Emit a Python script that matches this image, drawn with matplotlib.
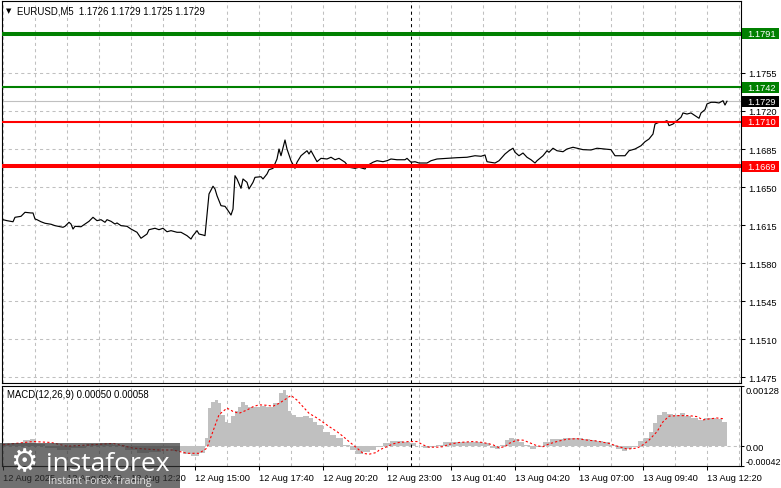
import numpy as np
import matplotlib.pyplot as plt
import matplotlib.transforms as mtransforms
from matplotlib.patches import Rectangle

plt.rcParams['font.family'] = ['Liberation Sans', 'DejaVu Sans']
plt.rcParams['font.size'] = 6.7

# EURUSD M5 closes (bar 0 = 12 Aug 07:00)
price_bar = [0, 2, 5, 6, 9, 11, 14, 15, 16, 17, 19, 21, 24, 26, 30, 31, 33, 34, 35, 36,
             39, 41, 43, 45, 47, 49, 51, 52, 54, 56, 57, 59, 62, 64, 67, 69, 72, 73, 76, 78,
             80, 82, 84, 87, 89, 92, 94, 95, 97, 98, 100, 101, 103, 105, 106, 107, 109, 111, 112, 114,
             115, 116, 117, 119, 120, 122, 123, 125, 126, 129, 130, 132, 133, 135, 137, 138, 139, 141, 142, 144,
             146, 147, 149, 152, 153, 154, 157, 159, 162, 164, 166, 168, 171, 173, 176, 178, 181, 182, 185, 187,
             190, 192, 194, 197, 201, 202, 204, 206, 208, 212, 214, 217, 222, 227, 232, 236, 239, 241, 242, 246,
             248, 251, 253, 255, 256, 258, 260, 262, 264, 266, 267, 270, 272, 273, 275, 277, 280, 282, 285, 287,
             290, 294, 297, 301, 304, 306, 311, 313, 316, 319, 321, 323, 325, 326, 328, 330, 332, 333, 335, 337,
             339, 340, 342, 344, 346, 348, 349, 351, 352, 354, 356, 358, 360, 361, 362]
price_close = [1.16199, 1.16190, 1.16180, 1.16221, 1.16230, 1.16267, 1.16261, 1.16261, 1.16205, 1.16199,
               1.16180, 1.16166, 1.16157, 1.16144, 1.16129, 1.16138, 1.16175, 1.16159, 1.16113, 1.16138,
               1.16134, 1.16159, 1.16184, 1.16221, 1.16190, 1.16199, 1.16175, 1.16199, 1.16184, 1.16159,
               1.16169, 1.16144, 1.16138, 1.16113, 1.16083, 1.16028, 1.16067, 1.16107, 1.16120, 1.16107,
               1.16120, 1.16088, 1.16098, 1.16083, 1.16083, 1.16052, 1.16021, 1.16052, 1.16098, 1.16067,
               1.16058, 1.16052, 1.16436, 1.16507, 1.16482, 1.16420, 1.16328, 1.16322, 1.16297, 1.16242,
               1.16297, 1.16604, 1.16574, 1.16488, 1.16574, 1.16543, 1.16482, 1.16543, 1.16589, 1.16595,
               1.16574, 1.16620, 1.16659, 1.16672, 1.16758, 1.16850, 1.16788, 1.16933, 1.16850, 1.16742,
               1.16672, 1.16728, 1.16788, 1.16834, 1.16804, 1.16834, 1.16733, 1.16764, 1.16758, 1.16774,
               1.16751, 1.16764, 1.16728, 1.16682, 1.16672, 1.16682, 1.16666, 1.16696, 1.16728, 1.16742,
               1.16733, 1.16742, 1.16758, 1.16751, 1.16751, 1.16764, 1.16728, 1.16733, 1.16721, 1.16721,
               1.16742, 1.16758, 1.16764, 1.16770, 1.16774, 1.16788, 1.16783, 1.16795, 1.16733, 1.16721,
               1.16742, 1.16804, 1.16834, 1.16857, 1.16820, 1.16788, 1.16813, 1.16774, 1.16751, 1.16721,
               1.16742, 1.16788, 1.16834, 1.16820, 1.16857, 1.16834, 1.16825, 1.16850, 1.16866, 1.16857,
               1.16844, 1.16841, 1.16857, 1.16850, 1.16844, 1.16788, 1.16788, 1.16834, 1.16850, 1.16880,
               1.16917, 1.16942, 1.16988, 1.17080, 1.17096, 1.17096, 1.17111, 1.17065, 1.17080, 1.17111,
               1.17142, 1.17182, 1.17172, 1.17182, 1.17157, 1.17133, 1.17182, 1.17212, 1.17265, 1.17280,
               1.17280, 1.17274, 1.17295, 1.17255, 1.17290]

# MACD histogram and signal line
hist_bar = [0, 8, 12, 15, 18, 24, 30, 38, 45, 52, 58, 64, 70, 76, 82, 88, 92, 96, 100, 102,
            103, 105, 107, 108, 110, 112, 113, 115, 117, 118, 120, 122, 123, 127, 130, 133, 137, 139, 141, 142,
            143, 145, 148, 152, 154, 156, 158, 162, 165, 168, 172, 175, 178, 182, 185, 188, 192, 195, 198, 202,
            205, 208, 212, 215, 218, 222, 225, 232, 238, 242, 245, 247, 250, 252, 254, 257, 259, 262, 265, 268,
            272, 275, 278, 282, 285, 288, 292, 295, 298, 302, 305, 308, 311, 313, 316, 319, 322, 324, 326, 328,
            331, 333, 337, 340, 342, 346, 349, 352, 355, 358, 361, 362]
hist_val = [0.00004, 0.00006, 0.00013, 0.00015, 0.00004, -0.00004, -0.00008, -0.00004, 0.00004, 0.00006,
            0.00002, -0.00008, -0.00015, -0.00013, -0.00004, -0.00011, -0.00017, -0.00021, -0.00015, 0.00017,
            0.00081, 0.00095, 0.00098, 0.00091, 0.00067, 0.00052, 0.00049, 0.00064, 0.00074, 0.00084,
            0.00094, 0.00088, 0.00084, 0.00084, 0.00086, 0.00084, 0.00091, 0.00113, 0.00120, 0.00109,
            0.00074, 0.00067, 0.00063, 0.00065, 0.00061, 0.00052, 0.00045, 0.00031, 0.00023, 0.00017,
            0.00003, -0.00008, -0.00017, -0.00013, -0.00008, -0.00001, 0.00006, 0.00011, 0.00011, 0.00010,
            0.00006, 0.00001, -0.00004, -0.00002, 0.00003, 0.00008, 0.00010, 0.00010, 0.00010, 0.00006,
            -0.00003, -0.00006, 0.00003, 0.00013, 0.00018, 0.00015, 0.00010, 0.00003, -0.00006, -0.00001,
            0.00010, 0.00015, 0.00016, 0.00018, 0.00018, 0.00017, 0.00015, 0.00013, 0.00011, 0.00008,
            0.00003, -0.00006, -0.00010, -0.00006, -0.00001, 0.00011, 0.00018, 0.00031, 0.00049, 0.00067,
            0.00072, 0.00068, 0.00067, 0.00070, 0.00065, 0.00060, 0.00055, 0.00060, 0.00061, 0.00058,
            0.00052, 0.00052]
signal_bar = [0, 15, 24, 32, 48, 55, 65, 78, 85, 92, 98, 102, 105, 108, 112, 115, 118, 122, 125, 128,
              132, 135, 138, 142, 144, 147, 150, 153, 157, 160, 163, 167, 170, 173, 177, 180, 183, 187, 188, 192,
              195, 198, 203, 207, 210, 213, 217, 220, 223, 228, 235, 240, 245, 248, 251, 253, 257, 260, 263, 267,
              270, 273, 277, 282, 287, 292, 297, 303, 308, 312, 317, 320, 323, 327, 330, 333, 338, 343, 347, 350,
              353, 357, 361]
signal_val = [0.00003, 0.00010, 0.00008, 0.00000, 0.00004, 0.00006, -0.00004, -0.00008, -0.00008, -0.00015,
              -0.00015, -0.00004, 0.00032, 0.00067, 0.00081, 0.00074, 0.00070, 0.00077, 0.00084, 0.00088,
              0.00087, 0.00085, 0.00091, 0.00102, 0.00108, 0.00098, 0.00084, 0.00070, 0.00060, 0.00051,
              0.00042, 0.00031, 0.00021, 0.00010, -0.00004, -0.00015, -0.00017, -0.00013, -0.00008, -0.00001,
              0.00005, 0.00008, 0.00010, 0.00010, 0.00003, -0.00002, -0.00002, -0.00001, 0.00004, 0.00008,
              0.00010, 0.00008, 0.00003, -0.00003, -0.00001, 0.00006, 0.00013, 0.00013, 0.00008, 0.00001,
              -0.00001, 0.00005, 0.00010, 0.00015, 0.00016, 0.00013, 0.00011, 0.00006, -0.00001, -0.00006,
              -0.00004, 0.00003, 0.00013, 0.00031, 0.00052, 0.00064, 0.00065, 0.00065, 0.00063, 0.00056,
              0.00058, 0.00060, 0.00058]

levels = [1.1791, 1.1742, 1.1710, 1.1669]
level_colors = ['#008000', '#008000', '#ff0000', '#ff0000']
level_widths = [2.9, 1.5, 1.5, 2.9]
last_price = 1.1729
separator_bar = 204  # 13 Aug 00:00

price_ticks = [1.1755, 1.1720, 1.1685, 1.1650, 1.1615, 1.1580, 1.1545, 1.1510, 1.1475]
time_labels = ['12 Aug 2025', '12 Aug 09:40', '12 Aug 12:20', '12 Aug 15:00', '12 Aug 17:40',
               '12 Aug 20:20', '12 Aug 23:00', '13 Aug 01:40', '13 Aug 04:20', '13 Aug 07:00',
               '13 Aug 09:40', '13 Aug 12:20']
macd_ticks = [0.00128, 0.0, -0.00042]
macd_tick_labels = ['0.00128', '0.00', '-0.00042']

W, H = 781, 489
fig = plt.figure(figsize=(W / 100, H / 100), dpi=100)
ax = fig.add_axes([2 / W, 1 - 384 / H, 739 / W, 382 / H])
ax2 = fig.add_axes([2 / W, 1 - 467 / H, 739 / W, 80 / H])

grid_kw = dict(color='#c0c0c0', linestyle=(0, (3, 3)), linewidth=0.75)

# ---- price panel ----
ax.plot(price_bar, price_close, color='black', lw=0.85, zorder=3)
for lvl, col, lw in zip(levels, level_colors, level_widths):
    ax.axhline(lvl, color=col, lw=lw, zorder=4)
ax.axhline(last_price, color='#c0c0c0', lw=0.8, zorder=2)
ax.axhline(1.1790, **grid_kw)
ax.axvline(separator_bar, color='black', linestyle=(0, (3, 3)), lw=0.75, zorder=2)

ax.set_xlim(-0.5, 369)
ax.set_ylim(1.14695, 1.18213)
ax.set_xticks(np.arange(0, 369, 16))
ax.tick_params(axis='x', length=0, labelbottom=False)
ax.yaxis.tick_right()
ax.set_yticks(price_ticks)
ax.set_yticklabels([f'{t:.4f}' for t in price_ticks])
ax.tick_params(axis='y', length=3, width=0.75, pad=2.2)
ax.grid(True, **grid_kw)
for s in ax.spines.values():
    s.set_linewidth(0.8)

# coloured price labels on the right scale
trans = mtransforms.blended_transform_factory(ax.transAxes, ax.transData)
box_w = 37 / 739
box_h = 11 / (382 / (1.18213 - 1.14695))
for lvl, col in zip(levels + [last_price], level_colors + ['black']):
    ax.add_patch(Rectangle((1.0015, lvl - box_h / 2), box_w, box_h, transform=trans,
                           facecolor=col, edgecolor='none', clip_on=False, zorder=5))
    ax.text(1.0 + 6 / 739, lvl, f'{lvl:.4f}', transform=trans, color='white',
            va='center', ha='left', clip_on=False, zorder=6)

# ---- MACD panel ----
ax2.fill_between(hist_bar, 0, hist_val, step='mid', color='#c0c0c0', lw=0, zorder=2)
ax2.plot(signal_bar, signal_val, color='red', linestyle=(0, (2, 2)), lw=0.8, zorder=3)
ax2.axhline(0, **grid_kw)
ax2.axvline(separator_bar, color='black', linestyle=(0, (3, 3)), lw=0.75, zorder=2)
ax2.set_xlim(-0.5, 369)
ax2.set_ylim(-0.00042, 0.00128)
ax2.set_xticks(np.arange(0, 369, 32))
ax2.set_xticklabels(time_labels)
ax2.set_xticks(np.arange(16, 369, 32), minor=True)
ax2.grid(True, axis='x', which='both', **grid_kw)
ax2.tick_params(axis='x', which='minor', length=0)
ax2.tick_params(axis='x', which='major', length=3, width=0.75, pad=2)
for lbl in ax2.get_xticklabels():
    lbl.set_horizontalalignment('left')
ax2.yaxis.tick_right()
ax2.set_yticks(macd_ticks)
ax2.set_yticklabels(macd_tick_labels)
ax2.tick_params(axis='y', length=2, width=0.75, pad=1)
ylbls = ax2.get_yticklabels()
ylbls[0].set_verticalalignment('top')
ylbls[2].set_verticalalignment('bottom')
ylbls[2].set_fontsize(6.4)
for s in ax2.spines.values():
    s.set_linewidth(0.8)

# titles
fig.text(6 / W, 1 - 11 / H, '▼', fontsize=5, va='center', family='DejaVu Sans')
fig.text(17 / W, 1 - 11 / H, 'EURUSD,M5  1.1726 1.1729 1.1725 1.1729', va='center', fontsize=6.9)
fig.text(7 / W, 1 - 395 / H, 'MACD(12,26,9) 0.00050 0.00058', va='center', fontsize=6.9)

# watermark
fig.patches.append(Rectangle((0, 0), 180 / W, 45 / H, transform=fig.transFigure,
                             facecolor='#333333', alpha=0.7, edgecolor='none', zorder=10))
fig.text(24 / W, 1 - 463 / H, '⚙', family='DejaVu Sans', fontsize=22, color='white',
         ha='center', va='center', zorder=11)
fig.text(46 / W, 1 - 465 / H, 'instaforex', family='Open Sans', fontsize=19, color='white',
         va='center', zorder=11)
fig.text(48 / W, 1 - 482 / H, 'Instant Forex Trading', family='Open Sans', fontsize=7.5,
         color='#e0e0e0', va='center', zorder=11)

fig.savefig('out.png', dpi=100)
